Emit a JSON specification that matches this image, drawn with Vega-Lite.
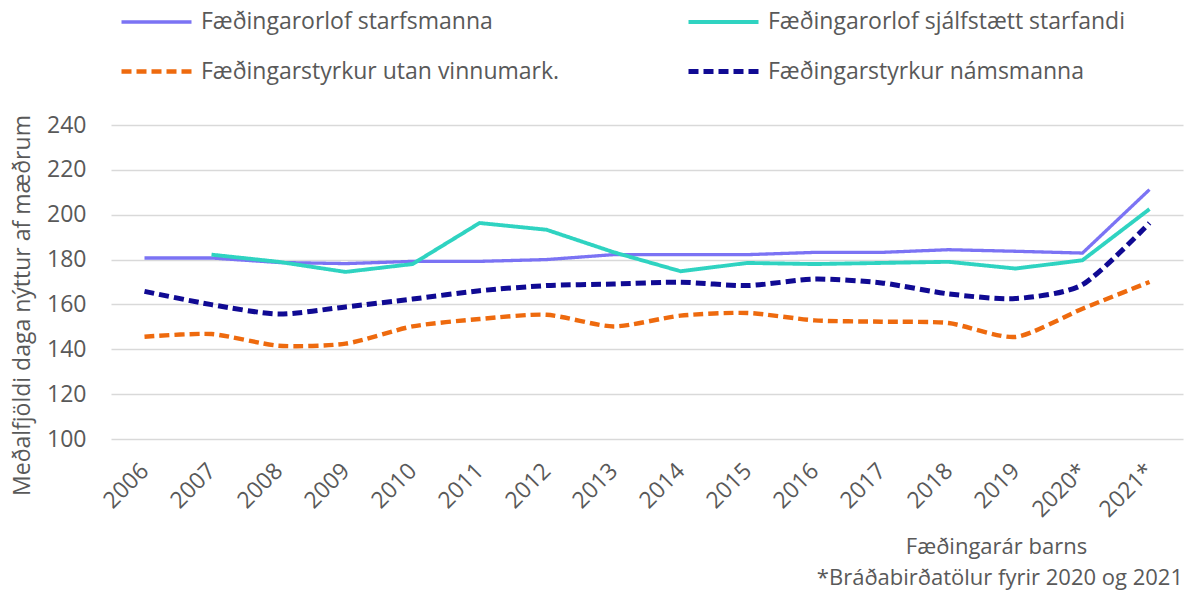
{
  "$schema": "https://vega.github.io/schema/vega-lite/v6.json",
  "width": 1072,
  "height": 314,
  "autosize": "none",
  "padding": {"left": 111, "top": 125, "right": 21, "bottom": 157},
  "background": "white",
  "config": {
    "font": "Open Sans",
    "view": {"stroke": null},
    "title": {"font": "Open Sans", "fontSize": 22, "fontWeight": "normal", "color": "#595959"}
  },
  "title": {"text": "*Bráðabirðatölur fyrir 2020 og 2021", "orient": "bottom", "anchor": "end", "frame": "group", "offset": 11},
  "data": {"values": [
    {"year": "2006", "series": "Fæðingarorlof starfsmanna", "value": 180.7},
    {"year": "2007", "series": "Fæðingarorlof starfsmanna", "value": 180.7},
    {"year": "2008", "series": "Fæðingarorlof starfsmanna", "value": 178.7},
    {"year": "2009", "series": "Fæðingarorlof starfsmanna", "value": 178.2},
    {"year": "2010", "series": "Fæðingarorlof starfsmanna", "value": 179.2},
    {"year": "2011", "series": "Fæðingarorlof starfsmanna", "value": 179.2},
    {"year": "2012", "series": "Fæðingarorlof starfsmanna", "value": 180.0},
    {"year": "2013", "series": "Fæðingarorlof starfsmanna", "value": 182.2},
    {"year": "2014", "series": "Fæðingarorlof starfsmanna", "value": 182.2},
    {"year": "2015", "series": "Fæðingarorlof starfsmanna", "value": 182.2},
    {"year": "2016", "series": "Fæðingarorlof starfsmanna", "value": 183.2},
    {"year": "2017", "series": "Fæðingarorlof starfsmanna", "value": 183.2},
    {"year": "2018", "series": "Fæðingarorlof starfsmanna", "value": 184.4},
    {"year": "2019", "series": "Fæðingarorlof starfsmanna", "value": 183.7},
    {"year": "2020*", "series": "Fæðingarorlof starfsmanna", "value": 182.9},
    {"year": "2021*", "series": "Fæðingarorlof starfsmanna", "value": 211.2},
    {"year": "2007", "series": "Fæðingarorlof sjálfstætt starfandi", "value": 182.2},
    {"year": "2008", "series": "Fæðingarorlof sjálfstætt starfandi", "value": 179.0},
    {"year": "2009", "series": "Fæðingarorlof sjálfstætt starfandi", "value": 174.5},
    {"year": "2010", "series": "Fæðingarorlof sjálfstætt starfandi", "value": 178.0},
    {"year": "2011", "series": "Fæðingarorlof sjálfstætt starfandi", "value": 196.3},
    {"year": "2012", "series": "Fæðingarorlof sjálfstætt starfandi", "value": 193.3},
    {"year": "2013", "series": "Fæðingarorlof sjálfstætt starfandi", "value": 183.3},
    {"year": "2014", "series": "Fæðingarorlof sjálfstætt starfandi", "value": 174.8},
    {"year": "2015", "series": "Fæðingarorlof sjálfstætt starfandi", "value": 178.5},
    {"year": "2016", "series": "Fæðingarorlof sjálfstætt starfandi", "value": 178.0},
    {"year": "2017", "series": "Fæðingarorlof sjálfstætt starfandi", "value": 178.5},
    {"year": "2018", "series": "Fæðingarorlof sjálfstætt starfandi", "value": 179.0},
    {"year": "2019", "series": "Fæðingarorlof sjálfstætt starfandi", "value": 176.0},
    {"year": "2020*", "series": "Fæðingarorlof sjálfstætt starfandi", "value": 179.7},
    {"year": "2021*", "series": "Fæðingarorlof sjálfstætt starfandi", "value": 202.5},
    {"year": "2006", "series": "Fæðingarstyrkur utan vinnumark.", "value": 145.6},
    {"year": "2007", "series": "Fæðingarstyrkur utan vinnumark.", "value": 146.8},
    {"year": "2008", "series": "Fæðingarstyrkur utan vinnumark.", "value": 141.6},
    {"year": "2009", "series": "Fæðingarstyrkur utan vinnumark.", "value": 142.5},
    {"year": "2010", "series": "Fæðingarstyrkur utan vinnumark.", "value": 150.2},
    {"year": "2011", "series": "Fæðingarstyrkur utan vinnumark.", "value": 153.5},
    {"year": "2012", "series": "Fæðingarstyrkur utan vinnumark.", "value": 155.4},
    {"year": "2013", "series": "Fæðingarstyrkur utan vinnumark.", "value": 150.2},
    {"year": "2014", "series": "Fæðingarstyrkur utan vinnumark.", "value": 155.0},
    {"year": "2015", "series": "Fæðingarstyrkur utan vinnumark.", "value": 156.2},
    {"year": "2016", "series": "Fæðingarstyrkur utan vinnumark.", "value": 152.9},
    {"year": "2017", "series": "Fæðingarstyrkur utan vinnumark.", "value": 152.3},
    {"year": "2018", "series": "Fæðingarstyrkur utan vinnumark.", "value": 151.7},
    {"year": "2019", "series": "Fæðingarstyrkur utan vinnumark.", "value": 145.5},
    {"year": "2020*", "series": "Fæðingarstyrkur utan vinnumark.", "value": 158.1},
    {"year": "2021*", "series": "Fæðingarstyrkur utan vinnumark.", "value": 170.0},
    {"year": "2006", "series": "Fæðingarstyrkur námsmanna", "value": 165.8},
    {"year": "2007", "series": "Fæðingarstyrkur námsmanna", "value": 159.9},
    {"year": "2008", "series": "Fæðingarstyrkur námsmanna", "value": 155.7},
    {"year": "2009", "series": "Fæðingarstyrkur námsmanna", "value": 158.9},
    {"year": "2010", "series": "Fæðingarstyrkur námsmanna", "value": 162.4},
    {"year": "2011", "series": "Fæðingarstyrkur námsmanna", "value": 166.1},
    {"year": "2012", "series": "Fæðingarstyrkur námsmanna", "value": 168.4},
    {"year": "2013", "series": "Fæðingarstyrkur námsmanna", "value": 169.1},
    {"year": "2014", "series": "Fæðingarstyrkur námsmanna", "value": 169.9},
    {"year": "2015", "series": "Fæðingarstyrkur námsmanna", "value": 168.4},
    {"year": "2016", "series": "Fæðingarstyrkur námsmanna", "value": 171.3},
    {"year": "2017", "series": "Fæðingarstyrkur námsmanna", "value": 169.6},
    {"year": "2018", "series": "Fæðingarstyrkur námsmanna", "value": 164.7},
    {"year": "2019", "series": "Fæðingarstyrkur námsmanna", "value": 162.6},
    {"year": "2020*", "series": "Fæðingarstyrkur námsmanna", "value": 168.8},
    {"year": "2021*", "series": "Fæðingarstyrkur námsmanna", "value": 196.3}
  ]},
  "encoding": {
    "x": {
      "field": "year", "type": "ordinal", "sort": null,
      "scale": {"type": "point", "padding": 0.5},
      "axis": {
        "labelAngle": -45, "labelAlign": "right", "labelBaseline": "middle",
        "labelFontSize": 23, "labelColor": "#595959", "labelFont": "Open Sans",
        "labelPadding": 28, "ticks": false, "domain": false, "grid": false,
        "title": "Fæðingarár barns", "titleFontSize": 22, "titleFontWeight": "normal", "titleColor": "#595959",
        "titleFont": "Open Sans", "titleX": 885, "titleY": 107, "titleBaseline": "middle", "titleAlign": "center"
      }
    },
    "y": {
      "field": "value", "type": "quantitative",
      "scale": {"domain": [100, 240], "nice": false, "zero": false},
      "axis": {
        "values": [100, 120, 140, 160, 180, 200, 220, 240],
        "labelFontSize": 23, "labelColor": "#595959", "labelFont": "Open Sans", "labelPadding": 25,
        "ticks": false, "domain": false, "gridColor": "#d9d9d9", "gridWidth": 1.5,
        "title": "Meðalfjöldi daga nýttur af mæðrum", "titleFontSize": 23, "titleFontWeight": "normal",
        "titleColor": "#595959", "titleFont": "Open Sans", "titleX": -89, "titleY": 180, "titleAngle": -90,
        "titleAlign": "center", "titleBaseline": "middle"
      }
    },
    "color": {
      "field": "series", "type": "nominal",
      "scale": {
        "domain": ["Fæðingarorlof starfsmanna", "Fæðingarorlof sjálfstætt starfandi", "Fæðingarstyrkur utan vinnumark.", "Fæðingarstyrkur námsmanna"],
        "range": ["#7B73F4", "#2FD3C1", "#EE6A0E", "#100A93"]
      },
      "legend": {
        "title": null, "orient": "none", "legendX": 8, "legendY": -140, "direction": "horizontal", "columns": 2,
        "symbolType": "stroke", "symbolSize": 4900, "labelFontSize": 23, "labelColor": "#595959",
        "labelFont": "Open Sans", "labelOffset": 7, "columnPadding": 118, "rowPadding": -23, "labelLimit": 700
      }
    },
    "strokeDash": {
      "field": "series", "type": "nominal",
      "scale": {
        "domain": ["Fæðingarorlof starfsmanna", "Fæðingarorlof sjálfstætt starfandi", "Fæðingarstyrkur utan vinnumark.", "Fæðingarstyrkur námsmanna"],
        "range": [[1, 0], [1, 0], [10, 5], [10, 5]]
      },
      "legend": null
    },
    "strokeWidth": {
      "field": "series", "type": "nominal",
      "scale": {
        "domain": ["Fæðingarorlof starfsmanna", "Fæðingarorlof sjálfstætt starfandi", "Fæðingarstyrkur utan vinnumark.", "Fæðingarstyrkur námsmanna"],
        "range": [3.3, 5, 4, 4]
      }
    }
  },
  "layer": [
    {
      "transform": [{"filter": "indexof(datum.series, 'orlof') >= 0"}],
      "mark": {"type": "line", "interpolate": "linear", "strokeCap": "butt"}
    },
    {
      "transform": [{"filter": "indexof(datum.series, 'styrkur') >= 0"}],
      "mark": {"type": "line", "interpolate": "cardinal", "tension": 0.3, "strokeCap": "butt"}
    }
  ]
}
